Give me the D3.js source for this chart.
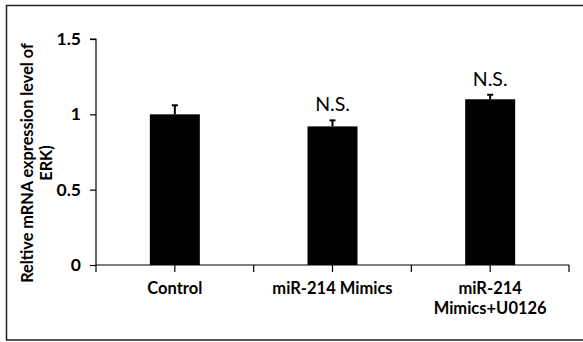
<!DOCTYPE html>
<html>
<head>
<meta charset="utf-8">
<script src="https://cdn.jsdelivr.net/npm/d3@7"></script>
<style>
  html, body { margin: 0; padding: 0; background: #fff; }
  svg { display: block; }
  text { font-family: Lato, "Open Sans", sans-serif; fill: #000; }
</style>
</head>
<body>
<svg id="chart" width="583" height="342"></svg>
<script>
// Relative ERK mRNA expression per treatment group
const categories = ["Control", "miR-214 Mimics", "miR-214 Mimics+U0126"];
const categoryLines = [["Control"], ["miR-214 Mimics"], ["miR-214", "Mimics+U0126"]];
const values = [1.00, 0.92, 1.10];
const errors = [0.06, 0.04, 0.03];
const significance = ["", "N.S.", "N.S."];
const yTicks = [0, 0.5, 1, 1.5];
const yLabelLines = ["Reltive mRNA expression level of", "ERK)"];

const svg = d3.select("#chart");
const W = 583, H = 342;

// outer frame
svg.append("rect")
  .attr("x", 6.5).attr("y", 5.5)
  .attr("width", W + 10).attr("height", 334.5)
  .attr("fill", "none").attr("stroke", "#222").attr("stroke-width", 1.5);

const plotLeft = 96, plotRight = 569, plotTop = 39, plotBottom = 265;

const x = d3.scaleBand().domain(categories).range([plotLeft, plotRight]).paddingInner(0).paddingOuter(0);
const y = d3.scaleLinear().domain([0, 1.5]).range([plotBottom, plotTop]);
const barW = 50;

// bars
svg.selectAll("rect.bar").data(categories).enter().append("rect")
  .attr("class", "bar")
  .attr("x", d => x(d) + x.bandwidth() / 2 - barW / 2)
  .attr("y", (d, i) => y(values[i]))
  .attr("width", barW)
  .attr("height", (d, i) => y(0) - y(values[i]))
  .attr("fill", "#000");

// error bars (upper only)
const eb = svg.selectAll("g.err").data(categories).enter().append("g").attr("class", "err");
eb.append("line")
  .attr("x1", d => x(d) + x.bandwidth() / 2).attr("x2", d => x(d) + x.bandwidth() / 2)
  .attr("y1", (d, i) => y(values[i])).attr("y2", (d, i) => y(values[i] + errors[i]))
  .attr("stroke", "#000").attr("stroke-width", 2);
eb.append("line")
  .attr("x1", d => x(d) + x.bandwidth() / 2 - 3).attr("x2", d => x(d) + x.bandwidth() / 2 + 3)
  .attr("y1", (d, i) => y(values[i] + errors[i])).attr("y2", (d, i) => y(values[i] + errors[i]))
  .attr("stroke", "#000").attr("stroke-width", 2);

// significance marks
svg.selectAll("text.sig").data(categories).enter().append("text")
  .attr("class", "sig")
  .attr("x", d => x(d) + x.bandwidth() / 2)
  .attr("y", (d, i) => y(values[i] + errors[i]) - 9)
  .attr("text-anchor", "middle")
  .attr("font-size", 19.5)
  .text((d, i) => significance[i]);

// y axis
const yAxis = svg.append("g")
  .attr("transform", `translate(${plotLeft},0)`)
  .call(d3.axisLeft(y).tickValues(yTicks).tickSize(6).tickPadding(9).tickFormat(d => d3.format("")(d)));
yAxis.select(".domain").attr("stroke", "#000").attr("stroke-width", 1.2).attr("d", `M-6,${plotTop}H0V${plotBottom}`);
yAxis.selectAll(".tick line").attr("stroke", "#000").attr("stroke-width", 1.2);
yAxis.selectAll(".tick text")
  .attr("font-family", "Lato, sans-serif").attr("font-weight", "bold").attr("font-size", 17.5).attr("fill", "#000");

// x axis: ticks at band boundaries and band centres
const xAxisG = svg.append("g").attr("transform", `translate(0,${plotBottom})`);
xAxisG.append("line").attr("x1", plotLeft).attr("x2", plotRight).attr("y1", 0).attr("y2", 0)
  .attr("stroke", "#000").attr("stroke-width", 1.2);
const boundaries = categories.map(d => x(d)).concat([plotRight]);
const centres = categories.map(d => x(d) + x.bandwidth() / 2);
xAxisG.selectAll("line.tk").data(boundaries.concat(centres)).enter().append("line")
  .attr("class", "tk")
  .attr("x1", d => d).attr("x2", d => d).attr("y1", 0).attr("y2", 7)
  .attr("stroke", "#000").attr("stroke-width", 1.2);

// category labels
const lab = svg.selectAll("text.cat").data(categories).enter().append("text")
  .attr("class", "cat")
  .attr("x", d => x(d) + x.bandwidth() / 2)
  .attr("y", 294)
  .attr("text-anchor", "middle")
  .attr("font-weight", "bold")
  .attr("font-size", 16.5);
lab.selectAll("tspan").data((d, i) => categoryLines[i]).enter().append("tspan")
  .attr("x", function() { return d3.select(this.parentNode).attr("x"); })
  .attr("dy", (d, j) => j === 0 ? 0 : 20)
  .text(d => d);

// y axis title
const yl = svg.append("text")
  .attr("transform", "translate(33,163) rotate(-90)")
  .attr("text-anchor", "middle")
  .attr("font-weight", "bold")
  .attr("font-size", 16.3);
yl.selectAll("tspan").data(yLabelLines).enter().append("tspan")
  .attr("x", 0)
  .attr("dy", (d, j) => j === 0 ? 0 : 19)
  .text(d => d);
</script>
</body>
</html>
